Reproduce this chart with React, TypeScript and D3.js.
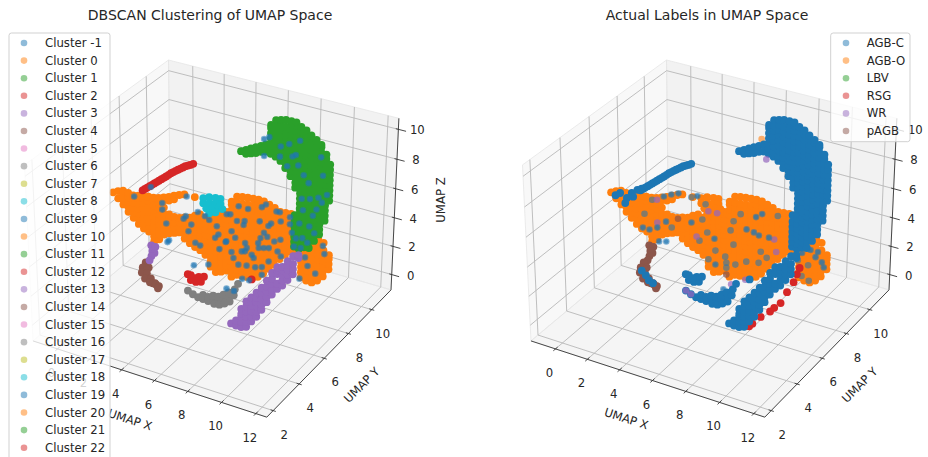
import React from 'react';
import * as d3 from 'd3';

// value ranges
const xLim = [-1.56, 12.63];
const yLim = [1.52, 11.7];
const zLim = [-1.1, 10.73];

const xTicks = [0, 2, 4, 6, 8, 10, 12];
const yTicks = [2, 4, 6, 8, 10];
const zTicks = [0, 2, 4, 6, 8, 10];

const clusterNames = ['-1', '0', '1', '2', '3', '4', '5', '6', '7', '8', '9', '10', '11', '12', '13', '14', '15', '16', '17', '18', '19', '20', '21', '22'];
const labelNames = ['AGB-C', 'AGB-O', 'LBV', 'RSG', 'WR', 'pAGB'];

// The picture only shows two dimensions, so every group sits on one UMAP Y
// plane: [umap y, x correction, z correction, z correction per x] from checking
// against the reference (perspective). Columns below are [umap x, [umap z, ...]]
const orangePlane = [6.48, -0.33, 0.2, -0.047];
const greenPlane = [10, -0.35, 0.04, 0];
const purplePlane = [5, -0.2, 0.61, -0.08];
const stripePlane = [8, -0.4, 0.23, 0];
const smallPlane = [4, 0, 0, 0];

const orangeColumns: [number, number[]][] = [
  [-0.4, [5.3]],
  [-0.08, [5.0, 5.5]],
  [0.24, [4.7, 5.05, 5.4, 5.65]],
  [0.56, [4.3, 4.65, 5.0, 5.3, 5.6]],
  [0.88, [4.0, 4.35, 4.7, 5.05, 5.4, 5.55]],
  [1.2, [3.7, 4.05, 4.4, 4.75, 5.1, 5.45, 5.65]],
  [1.52, [3.5, 3.85, 4.2, 4.55, 4.9, 5.25, 5.6, 5.75]],
  [1.84, [3.4, 3.75, 4.1, 4.45, 4.8, 5.15, 5.5, 5.8]],
  [2.16, [2.85, 3.2, 3.55, 3.9, 4.25, 4.6, 4.95, 5.3, 5.65, 5.85]],
  [2.48, [3.1, 3.45, 3.8, 4.15, 4.5, 4.85, 5.2, 5.55, 5.95]],
  [2.8, [3.55, 3.9, 4.25, 4.6, 4.95, 5.4, 5.9, 6.1]],
  [3.12, [3.75, 4.1, 4.45, 4.8, 5.05, 6.0, 6.25]],
  [3.44, [3.9, 4.25, 4.6, 5.0, 6.2, 6.45]],
  [3.76, [4.05, 4.4, 4.75, 5.05, 6.6]],
  [4.08, [3.75, 4.1, 4.45, 4.8, 5.2, 6.75]],
  [4.4, [3.55, 3.9, 4.25, 4.6, 4.95, 5.3]],
  [4.72, [3.4, 3.75, 4.1, 4.45, 4.8, 5.15, 5.55, 6.8]],
  [5.04, [3.3, 3.65, 4.0, 4.35, 4.7, 5.05, 5.4, 5.75]],
  [5.36, [3.1, 3.45, 3.8, 4.15, 4.5, 4.85, 5.2, 5.65]],
  [5.68, [2.4, 2.75, 3.1, 3.45, 3.8, 4.15, 4.5, 4.85, 5.2, 5.55, 5.8]],
  [6.0, [2.15, 2.5, 2.85, 3.2, 3.55, 3.9, 4.25, 4.6, 4.95, 5.3, 5.65, 5.95]],
  [6.32, [2.3, 2.65, 3.0, 3.35, 3.7, 4.05, 4.4, 4.75, 5.1, 5.45, 5.8, 6.15]],
  [6.64, [2.5, 2.85, 3.2, 3.55, 3.9, 4.25, 4.6, 4.95, 5.3, 5.65, 6.0, 6.35, 6.5]],
  [6.96, [2.2, 2.55, 2.9, 3.25, 3.6, 3.95, 4.3, 4.65, 5.0, 5.35, 5.7, 6.05, 6.4, 6.75, 7.1, 7.3]],
  [7.28, [2.45, 2.8, 3.15, 3.5, 3.85, 4.2, 4.55, 4.9, 5.25, 5.6, 5.95, 6.3, 6.65, 7.0, 7.35, 7.75]],
  [7.6, [2.5, 2.85, 3.2, 3.55, 3.9, 4.25, 4.6, 4.95, 5.3, 5.65, 6.0, 6.35, 6.7, 7.05, 7.4, 7.85]],
  [7.92, [2.55, 2.9, 3.25, 3.6, 3.95, 4.3, 4.65, 5.0, 5.35, 5.7, 6.05, 6.4, 6.75, 7.1, 7.45, 7.9]],
  [8.24, [2.6, 2.95, 3.3, 3.65, 4.0, 4.35, 4.7, 5.05, 5.4, 5.75, 6.1, 6.45, 6.8, 7.15, 7.5, 7.95]],
  [8.56, [2.8, 3.15, 3.5, 3.85, 4.2, 4.55, 4.9, 5.25, 5.6, 5.95, 6.3, 6.65, 7.0, 7.35, 7.7, 8.0]],
  [8.88, [3.15, 3.5, 3.85, 4.2, 4.55, 4.9, 5.25, 5.6, 5.95, 6.3, 6.65, 7.0, 7.35, 7.7, 8.0]],
  [9.2, [3.6, 3.95, 4.3, 4.65, 5.0, 5.35, 5.7, 6.05, 6.4, 6.75, 7.1, 7.45, 7.9]],
  [9.52, [4.0, 4.35, 4.7, 5.05, 5.4, 5.75, 6.1, 6.45, 6.8, 7.15, 7.5, 7.8]],
  [9.84, [4.5, 4.85, 5.2, 5.55, 5.9, 6.25, 6.6, 6.95, 7.3, 7.65]],
  [10.16, [4.9, 5.25, 5.6, 5.95, 6.3, 6.65, 7.0, 7.35, 7.7]],
  [10.48, [5.25, 5.6, 5.95, 6.3, 6.65, 7.0, 7.35, 7.75]],
  [10.8, [5.35, 5.7, 6.05, 6.4, 6.75, 7.1, 7.45, 7.75]],
  [11.12, [3.75, 4.1, 4.45, 4.8, 5.15, 5.5, 5.85, 6.2, 6.55, 6.9, 7.1]],
  [11.44, [3.65, 4.0, 4.35, 4.7, 5.05, 5.4, 5.75, 6.1, 6.45, 6.8, 7.2]],
  [11.76, [3.65, 4.0, 4.35, 4.7, 5.05, 5.4, 5.75, 6.1, 6.45, 6.85]],
  [12.08, [3.9, 4.25, 4.6, 4.95, 5.3, 5.65, 6.0, 6.35, 6.7, 7.0]],
  [12.4, [4.3, 4.65, 5.0, 5.35, 5.7, 6.05, 6.55]],
  [12.72, [4.9, 5.25, 5.6, 5.85]],
];

const greenColumns: [number, number[]][] = [
  [4.77, [7.29]],
  [5.08, [7.2, 7.47]],
  [5.38, [7.32, 7.66]],
  [5.69, [7.43, 7.84]],
  [6.0, [7.61, 8.02]],
  [6.3, [7.72, 8.2]],
  [6.6, [7.65, 8.0, 8.35, 8.7, 9.05, 9.4, 9.6]],
  [6.9, [7.55, 7.9, 8.25, 8.6, 8.95, 9.3, 9.65, 10.0]],
  [7.2, [7.35, 7.7, 8.05, 8.4, 8.75, 9.1, 9.45, 9.8, 10.1]],
  [7.5, [6.95, 7.3, 7.65, 8.0, 8.35, 8.7, 9.05, 9.4, 9.75, 10.2]],
  [7.83, [6.5, 6.85, 7.2, 7.55, 7.9, 8.25, 8.6, 8.95, 9.3, 9.65, 10.0, 10.2]],
  [8.13, [1.7, 2.05, 2.4, 2.75, 3.1, 3.45, 3.9, 5.8, 6.15, 6.5, 6.85, 7.2, 7.55, 7.9, 8.25, 8.6, 8.95, 9.3, 9.65, 10.0, 10.2]],
  [8.43, [1.65, 2, 2.35, 2.7, 3.05, 3.4, 3.75, 4.1, 4.45, 4.8, 5.15, 5.5, 5.85, 6.2, 6.55, 6.9, 7.25, 7.6, 7.95, 8.3, 8.65, 9, 9.35, 9.7, 10]],
  [8.74, [1.85, 2.2, 2.55, 2.9, 3.25, 3.6, 3.95, 4.3, 4.65, 5, 5.35, 5.7, 6.05, 6.4, 6.75, 7.1, 7.45, 7.8, 8.15, 8.5, 8.85, 9.2, 9.55, 9.85]],
  [9.04, [1.9, 2.35, 2.7, 3.05, 3.4, 3.75, 4.1, 4.45, 4.8, 5.15, 5.5, 5.85, 6.2, 6.55, 6.9, 7.25, 7.6, 7.95, 8.3, 8.65, 9, 9.35, 9.6]],
  [9.35, [2.5, 2.9, 3.25, 3.6, 3.95, 4.3, 4.65, 5, 5.35, 5.7, 6.05, 6.4, 6.75, 7.1, 7.45, 7.8, 8.15, 8.5, 8.85, 9.2, 9.4]],
  [9.65, [3.05, 3.4, 3.75, 4.1, 4.45, 4.8, 5.15, 5.5, 5.85, 6.2, 6.55, 6.9, 7.25, 7.6, 7.95, 8.3, 8.65, 9.0, 9.15]],
  [9.96, [4.1, 4.45, 4.8, 5.15, 5.5, 5.85, 6.2, 6.55, 6.9, 7.25, 7.6, 7.95, 8.3, 8.6]],
  [10.2, [5.55, 5.9, 6.25, 6.6, 6.95, 7.3, 7.65, 8.0]],
];

const purpleColumns: [number, number[]][] = [
  [7.99, [0.49]],
  [8.29, [0.47, 0.82]],
  [8.6, [0.5, 0.85, 1.2, 1.4, 1.75]],
  [8.9, [0.65, 1.0, 1.35, 1.7, 2.05, 2.4]],
  [9.2, [1.15, 1.5, 1.85, 2.2, 2.45, 2.8]],
  [9.5, [1.6, 1.95, 2.3, 2.6, 2.9, 3.25]],
  [9.8, [2.2, 2.55, 2.9, 3.35, 3.7]],
  [10.1, [2.85, 3.2, 3.55, 3.9, 4.3]],
  [10.4, [3.5, 3.85, 4.2, 4.55, 4.95]],
  [10.7, [4.0, 4.35, 5.0, 5.25, 5.45]],
  [11.0, [4.35, 4.7, 5.05, 5.35, 5.6]],
  [11.3, [4.85, 5.2, 5.55, 5.85, 6.1]],
  [11.6, [5.35, 5.7, 6.05, 6.55]],
  [11.9, [6.55, 6.75]],
];

const stripePoints = [[0.22, 4.47], [0.37, 4.61], [0.52, 4.75], [0.68, 4.9], [0.83, 5.04], [0.98, 5.18], [1.13, 5.32], [1.28, 5.46], [1.44, 5.61], [1.59, 5.75], [1.74, 5.89], [1.9, 6.05], [2.05, 6.21], [2.2, 6.33], [2.35, 6.46], [2.5, 6.58], [2.66, 6.71], [2.81, 6.83], [2.96, 6.96], [3.12, 7.05], [3.27, 7.14], [3.45, 7.27]];
const cyanPoints = [[5.24, 6.92], [5.24, 6.58], [5.6, 7.12], [5.6, 6.71], [5.98, 7.19], [5.98, 6.85], [6.28, 7.23], [6.28, 6.89], [5.42, 6.3], [5.8, 6.44], [5.6, 6.03], [6.16, 6.58], [5.98, 6.23], [6.4, 6.6]];
const brownPoints = [[3.43, 3.98], [3.24, 3.57], [3.61, 3.7], [3.49, 3.5], [3.18, 3.21], [3.49, 3.25], [3.37, 2.86], [3.73, 2.99], [3.67, 2.7], [3.85, 2.7], [3.98, 2.75], [4.04, 2.68], [4.22, 2.63], [4.16, 2.46]];
const smallPurplePoints = [[3.79, 5.25], [4.04, 5.23], [3.85, 4.89], [3.98, 4.8], [3.79, 4.53], [3.67, 4.2]];
const smallRedPoints = [[6.17, 4.04], [6.17, 3.7], [6.48, 3.68], [6.78, 3.79], [6.65, 4.08], [6.41, 3.92], [6.96, 4.19], [5.99, 4.04], [9.77, 4.96]];
const grayPoints = [[5.99, 2.93], [6.29, 2.78], [6.6, 2.69], [6.9, 2.66], [6.9, 2.94], [7.21, 2.64], [7.21, 2.91], [7.51, 2.75], [7.51, 3.1], [7.57, 2.57], [7.82, 2.79], [7.82, 3.14], [7.88, 2.62], [8.12, 3.04], [8.12, 3.38], [8.18, 2.8], [8.43, 3.3], [8.43, 3.64], [8.49, 3.04], [8.73, 3.55], [8.79, 3.97], [8.98, 4.4]];

// cluster -1 over the orange group, then over the green group
const noiseOnOrange = [[7.38, 7.14], [7.94, 7.16], [6.88, 6.42], [7.28, 6.12], [7.74, 6.29], [6.96, 5.31], [7.68, 6.0], [7.18, 4.95], [6.6, 4.45], [6.22, 3.82], [8.76, 7.58], [9.0, 7.84], [8.64, 6.59], [9.62, 7.6], [9.82, 7.63], [9.88, 7.03], [10.42, 7.51], [9.32, 6.69], [9.16, 6.47], [8.9, 5.92], [10.54, 6.53], [10.42, 7.05], [8.7, 5.49], [8.56, 5.11], [9.1, 5.72], [9.52, 5.57], [9.88, 5.82], [7.78, 4.82], [7.88, 4.52], [8.6, 4.78], [8.9, 4.9], [9.2, 5.0], [9.72, 4.97], [9.92, 4.7], [9.2, 4.09], [6.96, 3.9], [7.08, 3.53], [7.58, 4.17], [7.78, 4.25], [8.18, 4.17], [8.3, 3.99], [7.38, 3.19], [7.88, 3.31], [8.4, 3.4], [8.8, 3.56], [8.8, 3.03], [11.96, 4.32], [11.5, 4.66], [11.04, 3.63], [11.34, 5.18], [12.46, 5.82], [12.36, 6.33], [0.94, 5.49], [2.7, 5.68], [2.7, 5.23], [2.94, 4.36], [3.1, 3.27], [3.0, 3.1], [4.22, 6.66], [4.9, 5.86], [4.16, 5.31], [4.02, 5.08], [5.34, 5.74], [5.6, 5.57], [4.5, 4.86], [4.32, 4.34], [4.74, 3.7], [5.04, 3.62], [6.06, 5.32], [6.16, 4.79], [5.96, 4.49], [6.66, 6.35], [6.64, 4.51], [2.0, 6.52], [4.64, 2.11], [5.54, 2.5], [6.66, 1.26], [7.12, 1.26], [7.62, 2.3], [8.04, 2.36]];
const noiseOnGreen = [[6.19, 8.53], [6.5, 8.75], [7.21, 8.33], [7.72, 8.64], [8.37, 9.05], [8.13, 8.03], [7.93, 7.86], [6.2, 7.39], [7.17, 7.63], [7.62, 7.11], [8.29, 7.36], [9.65, 8.32], [9.79, 7.12], [8.63, 6.8], [8.94, 6.36], [8.54, 5.17], [9.04, 5.3], [9.55, 5.55], [10.06, 5.9], [9.76, 5.28], [8.63, 4.4], [9.24, 4.22], [9.45, 4.71], [8.43, 3.42], [9.04, 3.41], [9.35, 3.03], [8.63, 2.46], [8.23, 2.31], [8.94, 2.24], [8.13, 1.7], [8.54, 1.74]];

// right panel: labels that differ from the big blob they sit on
const agbcTip = [[-0.12, 5.2], [0.6, 5.27], [0.92, 5.73], [0.49, 4.88], [0.18, 5.46], [1.28, 6.07], [1.0, 5.5], [1.55, 6.25]];
const agbcOnOrange = [[3.05, 4.53], [1.58, 3.58], [2.0, 3.6], [2.5, 3.92], [2.6, 3.0], [3.05, 3.16], [4.63, 5.05], [6.04, 4.46], [6.1, 2.71], [2.93, 6.2], [3.4, 6.51], [3.84, 6.74], [5.0, 6.97], [7.98, 5.81], [8.54, 6.84], [8.9, 7.17], [8.42, 5.77], [8.72, 5.67], [9.32, 5.75], [6.59, 1.18], [11.28, 5.45], [11.77, 5.84], [12.2, 5.86], [12.07, 5.47], [12.56, 4.96], [12.44, 5.26]];
const grayMix = [[1.7, 4.58], [3.4, 4.26], [5.3, 5.5], [5.12, 3.99], [5.6, 4.72], [6.1, 3.67], [6.7, 3.48], [5.67, 2.91], [2.2, 5.72], [4.63, 6.76], [5.5, 6.6], [7.62, 6.7], [7.2, 6.07], [7.02, 5.39], [9.82, 7.38], [8.84, 4.62], [9.2, 4.34], [8.72, 3.82], [7.98, 3.62], [7.32, 3.17], [6.77, 3.09], [7.2, 4.49], [6.77, 2.75], [11.04, 4.88], [11.65, 4.77], [11.28, 3.9], [11.71, 3.74]];
const wrOnOrange = [[2.5, 4.26], [4.94, 4.2], [2.5, 5.83], [5.67, 6.19], [6.2, 6.25], [9.63, 5.74], [9.76, 4.95], [7.93, 2.36], [7.07, 1.71]];
const pagbOnOrange = [[3.8, 5.0], [6.77, 2.27]];
const rsgPoints = [[12.1, 5.98], [11.95, 5.5], [11.77, 4.9], [11.4, 4.08], [11.04, 3.19], [10.67, 2.71], [10.43, 2.36], [9.88, 1.75], [9.39, 1.08], [9.2, 0.81]];
const agbcOnBrown = [[3.55, 3.14], [3.3, 3.38], [3.73, 2.86], [3.98, 2.75]];
const agboStray = [[6.16, 8.53]];
const wrStray = [[6.46, 7.23]];
const wrOnGray = [[5.99, 2.93], [6.29, 2.78]];

type P3 = [number, number, number];

const onPlane = (x: number, z: number, [y, dx, dz, tilt]: number[]): P3 => [x + dx, y, z + dz + tilt * x];
const columnsOn = (cols: [number, number[]][], plane: number[]): P3[] =>
  cols.flatMap(([x, zs]) => zs.map(z => onPlane(x, z, plane)));
const pairsOn = (pairs: number[][], plane: number[]): P3[] => pairs.map(([x, z]) => onPlane(x, z, plane));

const orange = columnsOn(orangeColumns, orangePlane);
const green = columnsOn(greenColumns, greenPlane);
const purple = columnsOn(purpleColumns, purplePlane);
const stripe = pairsOn(stripePoints, stripePlane);
const cyan = pairsOn(cyanPoints, orangePlane);
const brown = pairsOn(brownPoints, smallPlane);
const smallPurple = pairsOn(smallPurplePoints, smallPlane);
const smallRed = pairsOn(smallRedPoints, smallPlane);
const gray = pairsOn(grayPoints, smallPlane);

const [blue, orangeCol, greenCol, redCol, purpleCol, brownCol, , grayCol, , cyanCol] = d3.schemeCategory10;
const legendColors = d3.schemeCategory10;

// matplotlib's default 3D view, elev 30 azim -60, box aspect 4:4:3
const boxSize = [1.1905, 1.1905, 0.8929];
const cam = { dist: 10 };
const u = [0.866, 0.5, 0];
const v = [-0.25, 0.433, 0.866];
const w = [0.433, -0.75, 0.5];

const xNorm = d3.scaleLinear().domain(xLim).range([-boxSize[0] / 2, boxSize[0] / 2]);
const yNorm = d3.scaleLinear().domain(yLim).range([-boxSize[1] / 2, boxSize[1] / 2]);
const zNorm = d3.scaleLinear().domain(zLim).range([-boxSize[2] / 2, boxSize[2] / 2]);

const dot = (a: number[], b: number[]) => a[0] * b[0] + a[1] * b[1] + a[2] * b[2];

const project = (x0: number) => {
  const sx = d3.scaleLinear().domain([0, 1]).range([x0, x0 + 2250]);
  const sy = d3.scaleLinear().domain([0, 1]).range([230, 230 - 2246]);
  return ([x, y, z]: P3): [number, number] => {
    const p = [xNorm(x), yNorm(y), zNorm(z)];
    const depth = cam.dist - dot(p, w);
    return [sx(dot(p, u) / depth), sy(dot(p, v) / depth)];
  };
};

const gridColor = '#b8b8b8';
const textColor = '#262626';
const fontFamily = '"DejaVu Sans", sans-serif';
const blobR = 3.9;
const dotR = 3.3;

function Points({ pts, color, proj, opacity = 1, r = blobR }: { pts: P3[]; color: string; proj: (p: P3) => [number, number]; opacity?: number; r?: number }) {
  return (
    <g fill={color} fillOpacity={opacity}>
      {pts.map((p, i) => {
        const [cx, cy] = proj(p);
        return <circle key={i} cx={cx} cy={cy} r={r} />;
      })}
    </g>
  );
}

// a dot that reads blue in the middle and grey round the rim
function NoiseDots({ pts, proj }: { pts: P3[]; proj: (p: P3) => [number, number] }) {
  return (
    <g>
      <Points pts={pts} color={blue} proj={proj} opacity={0.55} r={dotR} />
      <Points pts={pts} color={blue} proj={proj} opacity={0.6} r={2.3} />
    </g>
  );
}

function Axes3D({ x0, showZLabel, xLabelAt }: { x0: number; showZLabel: boolean; xLabelAt: [number, number] }) {
  const proj = project(x0);
  const line = d3.line();
  const [xa, xb] = xLim;
  const [ya, yb] = yLim;
  const [za, zb] = zLim;
  const path = (pts: P3[]) => line(pts.map(proj)) as string;

  return (
    <g>
      {/* panes */}
      <path d={path([[xa, ya, za], [xa, yb, za], [xa, yb, zb], [xa, ya, zb]]) + 'Z'} fill="#f2f2f2" fillOpacity={0.5} stroke="#e6e6e6" strokeWidth={0.8} />
      <path d={path([[xa, yb, za], [xb, yb, za], [xb, yb, zb], [xa, yb, zb]]) + 'Z'} fill="#e6e6e6" fillOpacity={0.5} stroke="#e6e6e6" strokeWidth={0.8} />
      <path d={path([[xa, ya, za], [xb, ya, za], [xb, yb, za], [xa, yb, za]]) + 'Z'} fill="#ececec" fillOpacity={0.5} stroke="#e6e6e6" strokeWidth={0.8} />
      {/* grid */}
      <g fill="none" stroke={gridColor} strokeWidth={0.9}>
        {xTicks.map(t => <path key={`gx${t}`} d={path([[t, ya, za], [t, yb, za], [t, yb, zb]])} />)}
        {yTicks.map(t => <path key={`gy${t}`} d={path([[xb, t, za], [xa, t, za], [xa, t, zb]])} />)}
        {zTicks.map(t => <path key={`gz${t}`} d={path([[xa, ya, t], [xa, yb, t], [xb, yb, t]])} />)}
      </g>
      {/* axis lines and ticks */}
      <g fill="none" stroke="#333" strokeWidth={0.9}>
        <path d={path([[xa, ya, za], [xb, ya, za]])} />
        <path d={path([[xb, ya, za], [xb, yb, za]])} />
        <path d={path([[xb, yb, za], [xb, yb, zb]])} />
        {xTicks.map(t => <path key={`tx${t}`} d={path([[t, ya + 0.15, za], [t, ya - 0.15, za]])} />)}
        {yTicks.map(t => <path key={`ty${t}`} d={path([[xb - 0.15, t, za], [xb + 0.15, t, za]])} />)}
        {zTicks.map(t => <path key={`tz${t}`} d={path([[xb - 0.15, yb, t], [xb + 0.45, yb, t]])} />)}
      </g>
      {/* tick labels */}
      <g fontFamily={fontFamily} fontSize={11.7} fill={textColor} textAnchor="middle" dominantBaseline="central">
        {xTicks.map(t => {
          const [a, b] = proj([t, ya, za]);
          return <text key={`lx${t}`} x={a - 6} y={b + 24}>{t}</text>;
        })}
        {yTicks.map(t => {
          const [a, b] = proj([xb, t, za]);
          return <text key={`ly${t}`} x={a + 11} y={b + 24}>{t}</text>;
        })}
        {zTicks.map(t => {
          const [a, b] = proj([xb, yb, t]);
          return <text key={`lz${t}`} x={a + 19} y={b + 1}>{t}</text>;
        })}
      </g>
      {/* axis labels */}
      <g fontFamily={fontFamily} fontSize={11.7} fill={textColor} textAnchor="middle" dominantBaseline="central">
        <text transform={`translate(${xLabelAt[0]},${xLabelAt[1]}) rotate(18)`}>UMAP X</text>
        <text transform={`translate(${x0 + 146.4},385) rotate(-45)`}>UMAP Y</text>
        {showZLabel && <text transform={`translate(${x0 + 225.4},200) rotate(-90)`}>UMAP Z</text>}
      </g>
    </g>
  );
}

function Legend({ x, y, width, height, names, colors, dotX, textX }: { x: number; y: number; width: number; height: number; names: string[]; colors: (i: number) => string; dotX: number; textX: number }) {
  const rowY = d3.scaleLinear().domain([0, 23]).range([43, 447.7]);
  return (
    <g>
      <rect x={x} y={y} width={width} height={height} rx={2.5} fill="#fff" fillOpacity={0.8} stroke="#ccc" strokeWidth={0.9} />
      {names.map((n, i) => (
        <g key={n}>
          <circle cx={dotX} cy={rowY(i)} r={dotR} fill={colors(i)} fillOpacity={0.5} />
          <text x={textX} y={rowY(i)} dominantBaseline="central" fontFamily={fontFamily} fontSize={11.7} fill={textColor}>{n}</text>
        </g>
      ))}
    </g>
  );
}

export default function App() {
  const leftX0 = 215.3;
  const rightX0 = 713.3;
  const left = project(leftX0);
  const right = project(rightX0);
  return (
    <svg width={928} height={457} style={{ position: 'absolute', left: 0, top: 0, background: '#fff' }}>
      <defs>
        <filter id="soft" x="0" y="0" width="100%" height="100%">
          <feGaussianBlur stdDeviation={0.55} />
        </filter>
      </defs>
      <text x={210} y={19.5} textAnchor="middle" fontFamily={fontFamily} fontSize={14} fill={textColor}>DBSCAN Clustering of UMAP Space</text>
      <text x={707} y={19.5} textAnchor="middle" fontFamily={fontFamily} fontSize={14} fill={textColor}>Actual Labels in UMAP Space</text>

      <Axes3D x0={leftX0} showZLabel xLabelAt={[130, 419.7]} />
      <g filter="url(#soft)">
        <Points pts={orange} color={orangeCol} proj={left} />
        <Points pts={cyan} color={cyanCol} proj={left} />
        <Points pts={stripe} color={redCol} proj={left} />
        <Points pts={brown} color={brownCol} proj={left} />
        <Points pts={smallPurple} color={purpleCol} proj={left} />
        <Points pts={smallRed} color={redCol} proj={left} />
        <Points pts={gray} color={grayCol} proj={left} />
        <Points pts={green} color={greenCol} proj={left} />
        <NoiseDots pts={pairsOn(noiseOnOrange, orangePlane)} proj={left} />
        <NoiseDots pts={pairsOn(noiseOnGreen, greenPlane)} proj={left} />
        <Points pts={purple} color={purpleCol} proj={left} />
      </g>
      <Legend x={9} y={33} width={101} height={440} names={clusterNames.map(c => `Cluster ${c}`)} colors={i => legendColors[i % 10]} dotX={24} textX={45} />

      <Axes3D x0={rightX0} showZLabel={false} xLabelAt={[626.3, 418.7]} />
      <g filter="url(#soft)">
        <Points pts={orange} color={orangeCol} proj={right} />
        <Points pts={cyan} color={orangeCol} proj={right} />
        <Points pts={pairsOn(grayMix, orangePlane)} color={blue} proj={right} opacity={0.55} r={dotR} />
        <Points pts={pairsOn(wrOnOrange, orangePlane)} color={purpleCol} proj={right} opacity={0.7} r={dotR} />
        <Points pts={pairsOn(pagbOnOrange, orangePlane)} color={brownCol} proj={right} opacity={0.7} r={dotR} />
        <NoiseDots pts={pairsOn(agbcOnOrange, orangePlane)} proj={right} />
        <Points pts={pairsOn(agbcTip, orangePlane)} color={blue} proj={right} />
        <Points pts={smallPurple} color={brownCol} proj={right} />
        <Points pts={brown} color={brownCol} proj={right} />
        <Points pts={pairsOn(agbcOnBrown, smallPlane)} color={blue} proj={right} />
        <Points pts={pairsOn(rsgPoints, purplePlane)} color={redCol} proj={right} />
        <Points pts={stripe} color={blue} proj={right} />
        <Points pts={smallRed} color={blue} proj={right} />
        <Points pts={gray} color={blue} proj={right} />
        <Points pts={pairsOn(wrOnGray, smallPlane)} color={purpleCol} proj={right} opacity={0.7} r={dotR} />
        <Points pts={pairsOn(agboStray, greenPlane)} color={orangeCol} proj={right} opacity={0.6} r={dotR} />
        <Points pts={green} color={blue} proj={right} />
        <Points pts={pairsOn(wrStray, greenPlane)} color={purpleCol} proj={right} opacity={0.7} r={dotR} />
        <Points pts={purple} color={blue} proj={right} />
      </g>
      <Legend x={830.7} y={33} width={79.3} height={108.7} names={labelNames} colors={i => legendColors[i]} dotX={846} textX={866.7} />
    </svg>
  );
}
